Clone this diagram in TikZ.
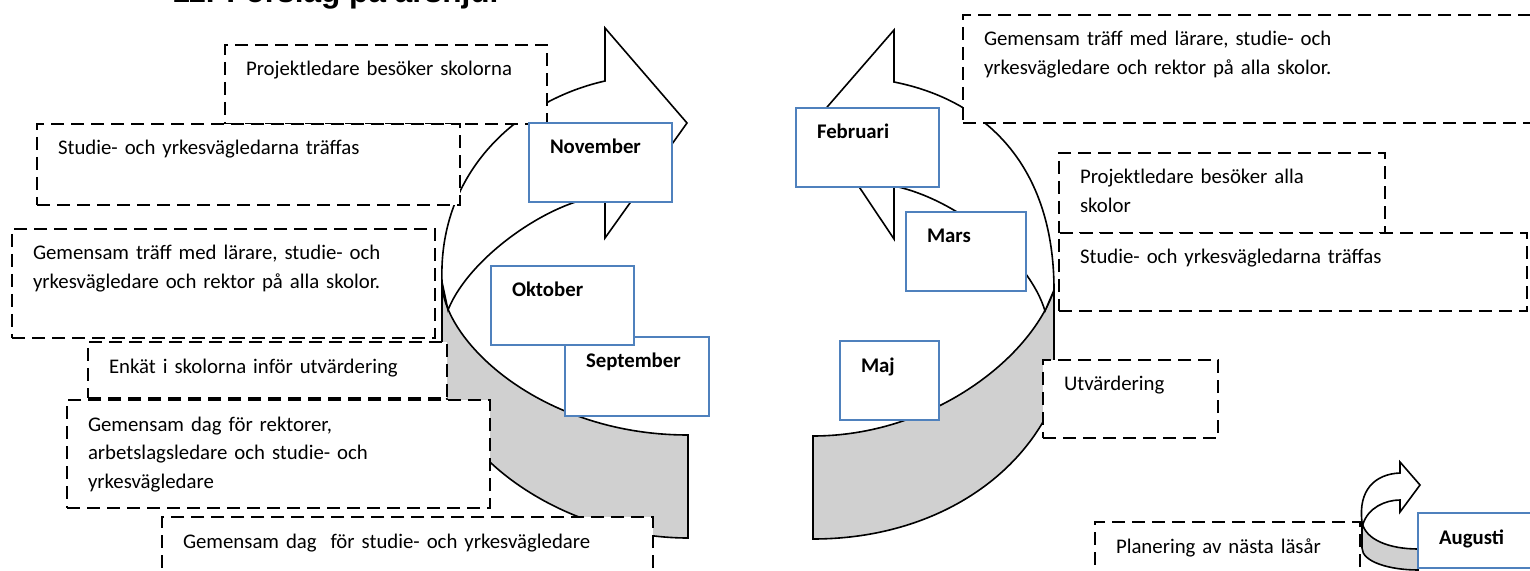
\documentclass[tikz,border=0pt]{standalone}
\usepackage{fontspec}
\setmainfont{Carlito}
\newfontfamily\headfont{Liberation Sans}
\usepackage{tikz}
\definecolor{monthblue}{HTML}{4F81BD}
\definecolor{backgray}{HTML}{D0D0D0}

\begin{document}
\begin{tikzpicture}[x=0.5pt, y=-0.5pt,
		every node/.style={font=\fontsize{10.4pt}{14.3pt}\selectfont},
		ribbon/.style={draw=black, line width=0.8pt, line join=miter},
		plan/.style={draw, fill=white, dash pattern=on 6.5pt off 3.5pt, line width=1.2pt, anchor=north west, outer sep=0pt, align=left, inner xsep=10.5pt, inner ysep=8.5pt, text height=7pt},
		month/.style={plan, draw=monthblue, solid, line width=1pt, font=\fontsize{10.4pt}{14.3pt}\selectfont\bfseries}]
		\useasboundingbox (0,0) rectangle (1530,571);
		\fill[white] (0,0) rectangle (1530,571);
		\node[anchor=base west, inner sep=0pt, font=\headfont\bfseries\fontsize{15.8pt}{18pt}\selectfont] (rubrik) at (172,3) {11. Förslag på årshjul};

		\filldraw[ribbon, fill=backgray] (442,282) .. controls (442,340) and (540,435) .. (688,435) -- (688,538) .. controls (560,538) and (442,450) .. (442,370) -- cycle;
		\filldraw[ribbon, fill=white] (442,282) .. controls (438,170) and (520,100) .. (605,81) -- (605,28) -- (687,123) -- (605,238) -- (605,196) .. controls (555,198) and (470,255) .. (448,310) -- cycle;

		\filldraw[ribbon, fill=backgray] (1054,290) .. controls (1030,360) and (930,436) .. (813,436) -- (813,539) .. controls (930,539) and (1020,480) .. (1054,400) -- cycle;
		\filldraw[ribbon, fill=white] (1054,290) .. controls (1054,165) and (985,100) .. (894,82) -- (894,30) -- (815,121) -- (894,239) -- (894,186) .. controls (960,200) and (1030,260) .. (1045,311) -- cycle;

		\filldraw[ribbon, fill=backgray] (1362,522) .. controls (1365,540) and (1390,549) .. (1418,549) -- (1418,570) .. controls (1390,570) and (1362,562) .. (1362,548) -- cycle;
		\filldraw[ribbon, fill=white] (1362,522) .. controls (1358,490) and (1375,474) .. (1400,473) -- (1400,462) -- (1420,485) -- (1400,512) -- (1400,500) .. controls (1385,500) and (1368,508) .. (1363,524) -- cycle;

		\node[plan, text width=140pt, text depth=15.5pt] (projbesok) at (225,45) {Projektledare besöker skolorna};
		\node[plan, text width=190.5pt, text depth=16.5pt] (syvtraff) at (37,124) {Studie- och yrkesvägledarna träffas};
		\node[plan, text width=190.5pt, text depth=30.5pt] (gemtraff) at (12,229) {Gemensam träff med lärare, studie- och\\yrkesvägledare och rektor på alla skolor.};
		\node[plan, text width=158.5pt, text depth=4pt] (enkat) at (88,342) {Enkät i skolorna inför utvärdering};
		\node[plan, text width=190.5pt, text depth=30pt] (gemdag) at (67,400) {Gemensam dag för rektorer,\\arbetslagsledare och studie- och\\yrkesvägledare};
		\node[plan, text width=224.5pt, text depth=16pt] (syvdag) at (162,517) {Gemensam dag~ för studie- och yrkesvägledare};

		\node[plan, text width=269pt, text depth=30pt] (gemtraffvar) at (963,15) {Gemensam träff med lärare, studie- och\\yrkesvägledare och rektor på alla skolor.};
		\node[plan, text width=142pt, text depth=16pt] (projalla) at (1059,153) {Projektledare besöker alla\\skolor};
		\node[plan, text width=213pt, text depth=15pt] (syvtraffvar) at (1059,233) {Studie- och yrkesvägledarna träffas};
		\node[plan, text width=66.5pt, text depth=15pt] (utvard) at (1043,360) {Utvärdering};
		\node[plan, text width=111.5pt, text depth=16pt] (planering) at (1095,522) {Planering av nästa läsår};

		\node[month, text width=50.5pt, text depth=15.5pt] (nov) at (529,123) {November};
		\node[month, text width=51pt, text depth=15.5pt] (sep) at (565,337) {September};
		\node[month, text width=50.5pt, text depth=15.5pt] (okt) at (491,266) {Oktober};
		\node[month, text width=50.5pt, text depth=15.5pt] (feb) at (796,108) {Februari};
		\node[month, text width=39pt, text depth=15.5pt] (mar) at (906,212) {Mars};
		\node[month, text width=28.5pt, text depth=15.5pt] (maj) at (840,341) {Maj};
		\node[month, text width=60pt, text depth=3.5pt] (aug) at (1418,513) {Augusti};
	\end{tikzpicture}
\end{document}
